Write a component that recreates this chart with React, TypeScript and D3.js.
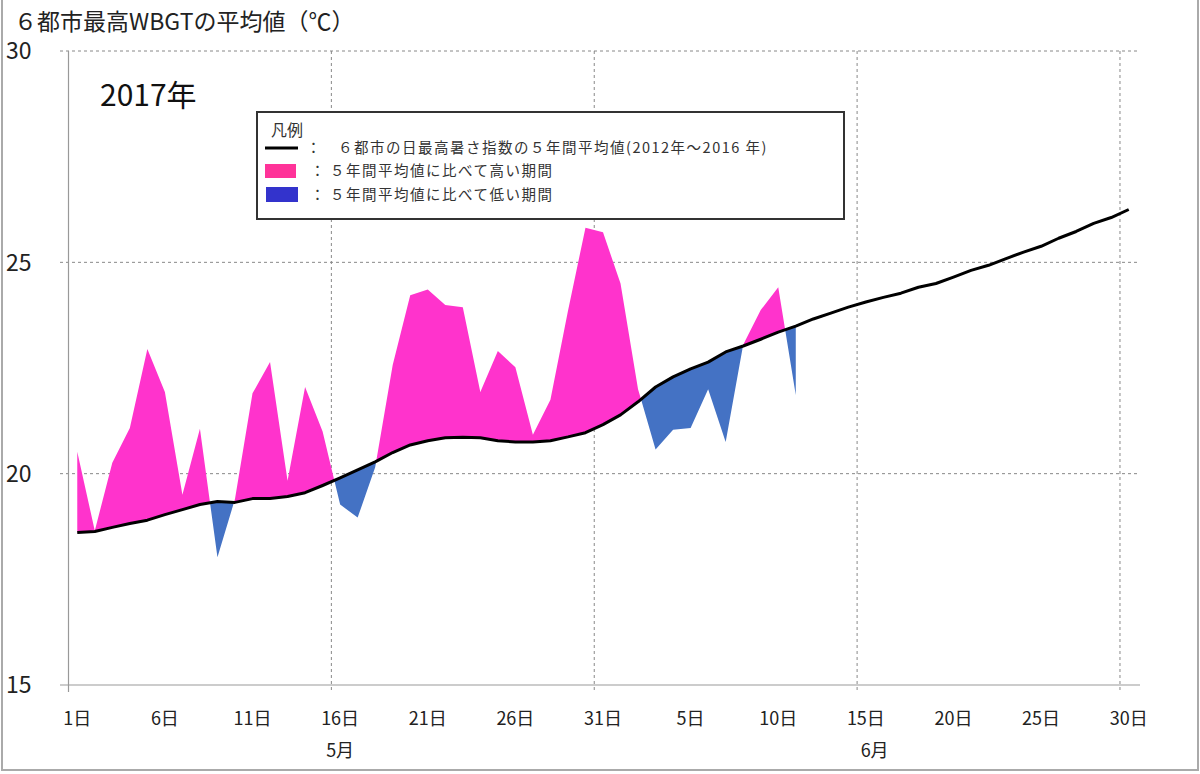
import React from 'react';
import * as d3 from 'd3';

// 6都市の日最高暑さ指数 5年間平均値 (5/1 ～ 6/30)
const avg5yr = [
  18.61, 18.63, 18.73, 18.82, 18.9, 19.03, 19.15, 19.27, 19.34, 19.32,
  19.41, 19.41, 19.46, 19.55, 19.72, 19.9, 20.09, 20.28, 20.5, 20.68,
  20.78, 20.85, 20.86, 20.85, 20.78, 20.75, 20.75, 20.78, 20.87, 20.97,
  21.16, 21.39, 21.7, 22.05, 22.29, 22.48, 22.64, 22.88, 23.02, 23.18,
  23.35, 23.49, 23.66, 23.8, 23.94, 24.06, 24.17, 24.27, 24.41, 24.5,
  24.65, 24.81, 24.93, 25.09, 25.24, 25.38, 25.57, 25.73, 25.92, 26.06, 26.25,
];

// 2017年の値 (5/1 ～ 6/11)
const obs2017 = [
  20.52, 18.65, 20.26, 21.08, 22.95, 21.93, 19.5, 21.06, 18.02, 19.4,
  21.9, 22.64, 19.83, 22.05, 21.0, 19.27, 18.96, 20.15, 22.57, 24.22,
  24.36, 23.99, 23.94, 21.93, 22.9, 22.52, 20.92, 21.75, 23.85, 25.82,
  25.71, 24.5, 22.0, 20.57, 21.04, 21.08, 22.0, 20.75, 23.05, 23.87,
  24.41, 21.86,
];

const dayLabels = ['1日', '6日', '11日', '16日', '21日', '26日', '31日', '5日', '10日', '15日', '20日', '25日', '30日'];
const months = [
  { label: '5月', first: 0, last: 30 },
  { label: '6月', first: 31, last: 60 },
];
const yTicks = [15, 20, 25, 30];
const yGrid = [20, 25, 30];
const legendRows = [
  '６都市の日最高暑さ指数の５年間平均値(2012年～2016 年)',
  '５年間平均値に比べて高い期間',
  '５年間平均値に比べて低い期間',
];

const W = 1200;
const H = 774;
const FONT = '"Noto Sans CJK JP", "Noto Sans", sans-serif';

type Pt = { t: number; o: number; a: number };

export default function App() {
  const n = avg5yr.length;
  const x = d3.scaleLinear().domain([-0.5, n - 0.5]).range([68.5, 1137.5]);
  const y = d3.scaleLinear().domain([15, 30]).range([685, 51]);

  // both series day by day, with the crossing points put in between
  const pts: Pt[] = [];
  for (let i = 0; i < obs2017.length; i++) {
    pts.push({ t: i, o: obs2017[i], a: avg5yr[i] });
    if (i < obs2017.length - 1) {
      const d0 = obs2017[i] - avg5yr[i];
      const d1 = obs2017[i + 1] - avg5yr[i + 1];
      if (d0 * d1 < 0) {
        const f = d0 / (d0 - d1);
        const a = avg5yr[i] + (avg5yr[i + 1] - avg5yr[i]) * f;
        pts.push({ t: i + f, o: a, a });
      }
    }
  }

  const hiArea = d3.area<Pt>()
    .x((d) => x(d.t))
    .y0((d) => y(d.a))
    .y1((d) => y(Math.max(d.o, d.a)));
  const loArea = d3.area<Pt>()
    .x((d) => x(d.t))
    .y0((d) => y(d.a))
    .y1((d) => y(Math.min(d.o, d.a)));
  const avgLine = d3.line<number>()
    .x((_, i) => x(i))
    .y((d) => y(d));

  // dashed lines between 15日|16日, 30日|31日, 14日|15日, 29日|30日
  const vGrid = [14.5, 29.5, 44.5, 59.5];

  return (
    <svg width={W} height={H} style={{ position: 'absolute', left: 0, top: 0, background: '#fff' }} fontFamily={FONT}>
      <rect x={2} y={-2} width={W - 4} height={H - 2} fill="#fff" stroke="#aaa" strokeWidth={2} />

      {/* title */}
      <text x={14} y={30} fontSize={23} fill="#222">６都市最高WBGTの平均値（℃）</text>

      {/* grid */}
      {yGrid.map((v) => (
        <line key={'h' + v} x1={60} x2={x(n - 0.5)} y1={y(v)} y2={y(v)} stroke="#888" strokeDasharray="3,3" />
      ))}
      {vGrid.map((t) => (
        <line key={'v' + t} x1={x(t)} x2={x(t)} y1={y(30)} y2={y(15) + 7} stroke="#888" strokeDasharray="3,3" />
      ))}

      {/* axes */}
      <line x1={x(-0.5)} x2={x(-0.5)} y1={y(30)} y2={y(15) + 7} stroke="#999" strokeWidth={1.2} />
      <line x1={60} x2={1140} y1={y(15)} y2={y(15)} stroke="#999" strokeWidth={1.2} />

      {yTicks.map((v) => (
        <text key={'yt' + v} x={6} y={y(v)} dy="0.36em" fontSize={23} fill="#222">{v}</text>
      ))}
      {dayLabels.map((lbl, k) => (
        <text key={'xt' + k} x={x(k * 5)} y={725} fontSize={18} textAnchor="middle" fill="#222">{lbl}</text>
      ))}
      {months.map((m) => (
        <text key={m.label} x={x((m.first + m.last) / 2)} y={757} fontSize={18} textAnchor="middle" fill="#222">{m.label}</text>
      ))}

      <text x={100} y={106} fontSize={30} fill="#111">2017年</text>

      {/* fills and 5-year average */}
      <path d={hiArea(pts) || ''} fill="#FF33CC" />
      <path d={loArea(pts) || ''} fill="#4472C4" />
      <path d={avgLine(avg5yr) || ''} fill="none" stroke="#000" strokeWidth={3} strokeLinejoin="round" />

      {/* legend */}
      <g>
        <rect x={257} y={112} width={587} height={107} fill="#fff" stroke="#333" strokeWidth={2} />
        <text x={271} y={136} fontSize={16} fill="#333">凡例</text>
        <line x1={265} x2={298} y1={148} y2={148} stroke="#000" strokeWidth={3} />
        <rect x={265} y={164} width={31} height={14} fill="#FF3399" />
        <rect x={266} y={187} width={32} height={15} fill="#3333CC" />
        <text x={306} y={153} fontSize={15} fill="#333">：</text>
        <text x={338} y={153} fontSize={14.5} fill="#333" letterSpacing={1.5}>{legendRows[0]}</text>
        <text x={310} y={176} fontSize={15} fill="#333">：</text>
        <text x={330} y={176} fontSize={14.5} fill="#333" letterSpacing={1.5}>{legendRows[1]}</text>
        <text x={310} y={200} fontSize={15} fill="#333">：</text>
        <text x={330} y={200} fontSize={14.5} fill="#333" letterSpacing={1.5}>{legendRows[2]}</text>
      </g>
    </svg>
  );
}
